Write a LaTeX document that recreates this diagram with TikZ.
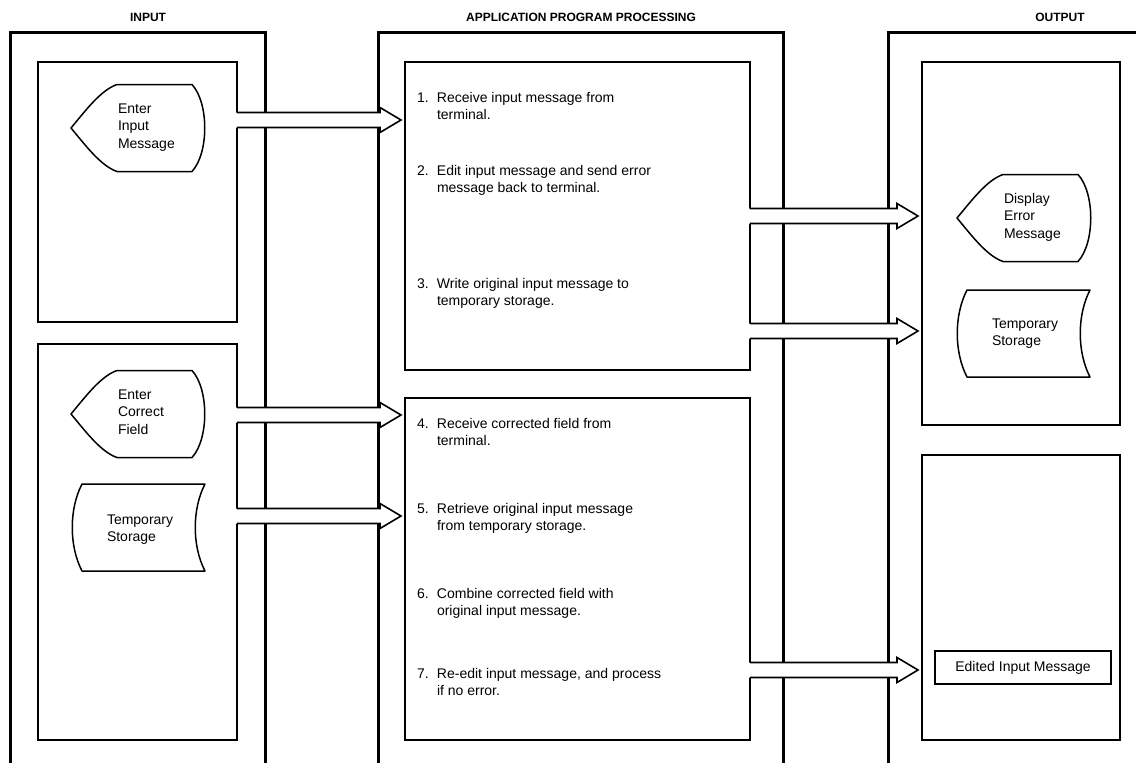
\documentclass[tikz,border=0pt]{standalone}
\usepackage{fontspec}
\setmainfont{Liberation Sans}
\usetikzlibrary{calc}

% hollow block arrow leaving the east side of #1 and pointing at the west side of #2,
% centred on the height #3 (measured downwards)
\newcommand\blockarrow[3]{%
  \fill[white] let \p1=(#1.east), \p2=(#2.west) in
    (\x1-1.5pt,-#3pt+7.5pt) -- (\x2-25pt,-#3pt+7.5pt) -- (\x2-25pt,-#3pt+12.5pt)
    -- (\x2-4pt,-#3pt) -- (\x2-25pt,-#3pt-12.5pt) -- (\x2-25pt,-#3pt-7.5pt)
    -- (\x1-1.5pt,-#3pt-7.5pt) -- cycle;
  \draw[flow] let \p1=(#1.east), \p2=(#2.west) in
    (\x1,-#3pt+7.5pt) -- (\x2-25pt,-#3pt+7.5pt) -- (\x2-25pt,-#3pt+12.5pt)
    -- (\x2-4pt,-#3pt) -- (\x2-25pt,-#3pt-12.5pt) -- (\x2-25pt,-#3pt-7.5pt)
    -- (\x1,-#3pt-7.5pt);
}

\begin{document}
\begin{tikzpicture}[x=1pt,y=-1pt,
  frame/.style={draw=black, line width=3pt},
  panel/.style={draw=black, line width=1.8pt, rectangle, inner sep=0pt, outer sep=0pt, anchor=north west},
  sym/.style={draw=black, line width=1.5pt, fill=white, line join=round},
  label/.style={inner sep=0pt, outer sep=0pt, font=\fontsize{14}{17.5}\selectfont},
  title/.style={inner sep=0pt, font=\bfseries\fontsize{12}{14}\selectfont},
  flow/.style={draw=black, line width=1.6pt, line join=miter},
  displaysym/.pic={
    \draw[sym] (0,0) .. controls (15,-18) and (30,-38) .. (46,-43.5) -- (121,-43.5)
      .. controls (138,-25) and (138,25) .. (121,43.5) -- (46,43.5)
      .. controls (30,38) and (15,18) .. (0,0) -- cycle;
  },
  storagesym/.pic={
    \draw[sym] (0,0) -- (123,0) .. controls (110,25) and (110,62) .. (123,87)
      -- (0,87) .. controls (-13,62) and (-13,25) .. (0,0) -- cycle;
  },
]
\useasboundingbox (0,0) rectangle (1136,763);
\clip (0,0) rectangle (1136,763);
\fill[white] (0,0) rectangle (1136,763);

% column headings
\node[title] (hin)  at (148,17)  {INPUT};
\node[title] (hmid) at (581,17)  {APPLICATION PROGRAM PROCESSING};
\node[title] (hout) at (1060,17) {OUTPUT};

% column frames (open at the foot of the page)
\draw[frame] (10,775) |- (265,32) -- (265,775);
\draw[frame] (378,775) |- (783,32) -- (783,775);
\draw[frame] (888,775) |- (1150,32) -- (1150,775);

% panels
\node[panel, minimum width=199pt, minimum height=260pt] (in1)  at (38,62)  {};
\node[panel, minimum width=199pt, minimum height=396pt] (in2)  at (38,344) {};
\node[panel, minimum width=345pt, minimum height=308pt] (mid1) at (405,62) {};
\node[panel, minimum width=345pt, minimum height=342pt] (mid2) at (405,398) {};
\node[panel, minimum width=198pt, minimum height=363pt] (out1) at (922,62) {};
\node[panel, minimum width=198pt, minimum height=285pt] (out2) at (922,455) {};

% data flows
\blockarrow{in1}{mid1}{120}
\blockarrow{mid1}{out1}{216}
\blockarrow{mid1}{out1}{331}
\blockarrow{in2}{mid2}{415}
\blockarrow{in2}{mid2}{516}
\blockarrow{mid2}{out2}{670}

% input symbols
\pic at (71,128) {displaysym};
\node[label, anchor=base west] (enterinput) at (118,113)
  {\begin{tabular}[t]{@{}l@{}}Enter\\Input\\Message\end{tabular}};
\pic at (71,414) {displaysym};
\node[label, anchor=base west] (enterfield) at (118,399)
  {\begin{tabular}[t]{@{}l@{}}Enter\\Correct\\Field\end{tabular}};
\pic at (82,484) {storagesym};
\node[label, anchor=base west] (tempin) at (107,524)
  {\begin{tabular}[t]{@{}l@{}}Temporary\\Storage\end{tabular}};

% processing steps
\node[label, anchor=base west] (p1) at (417,102)
  {\begin{tabular}[t]{@{}p{20pt}@{}l@{}}1.&Receive input message from\\&terminal.\end{tabular}};
\node[label, anchor=base west] (p2) at (417,175)
  {\begin{tabular}[t]{@{}p{20pt}@{}l@{}}2.&Edit input message and send error\\&message back to terminal.\end{tabular}};
\node[label, anchor=base west] (p3) at (417,288)
  {\begin{tabular}[t]{@{}p{20pt}@{}l@{}}3.&Write original input message to\\&temporary storage.\end{tabular}};
\node[label, anchor=base west] (p4) at (417,428)
  {\begin{tabular}[t]{@{}p{20pt}@{}l@{}}4.&Receive corrected field from\\&terminal.\end{tabular}};
\node[label, anchor=base west] (p5) at (417,513)
  {\begin{tabular}[t]{@{}p{20pt}@{}l@{}}5.&Retrieve original input message\\&from temporary storage.\end{tabular}};
\node[label, anchor=base west] (p6) at (417,598)
  {\begin{tabular}[t]{@{}p{20pt}@{}l@{}}6.&Combine corrected field with\\&original input message.\end{tabular}};
\node[label, anchor=base west] (p7) at (417,678)
  {\begin{tabular}[t]{@{}p{20pt}@{}l@{}}7.&Re-edit input message, and process\\&if no error.\end{tabular}};

% output symbols
\pic at (957,218) {displaysym};
\node[label, anchor=base west] (errmsg) at (1004,203)
  {\begin{tabular}[t]{@{}l@{}}Display\\Error\\Message\end{tabular}};
\pic at (967,290) {storagesym};
\node[label, anchor=base west] (tempout) at (992,328)
  {\begin{tabular}[t]{@{}l@{}}Temporary\\Storage\end{tabular}};
\node[label, draw=black, line width=1.5pt, minimum width=176pt, minimum height=33pt]
  (edited) at (1023,667.5) {Edited Input Message};
\end{tikzpicture}
\end{document}
